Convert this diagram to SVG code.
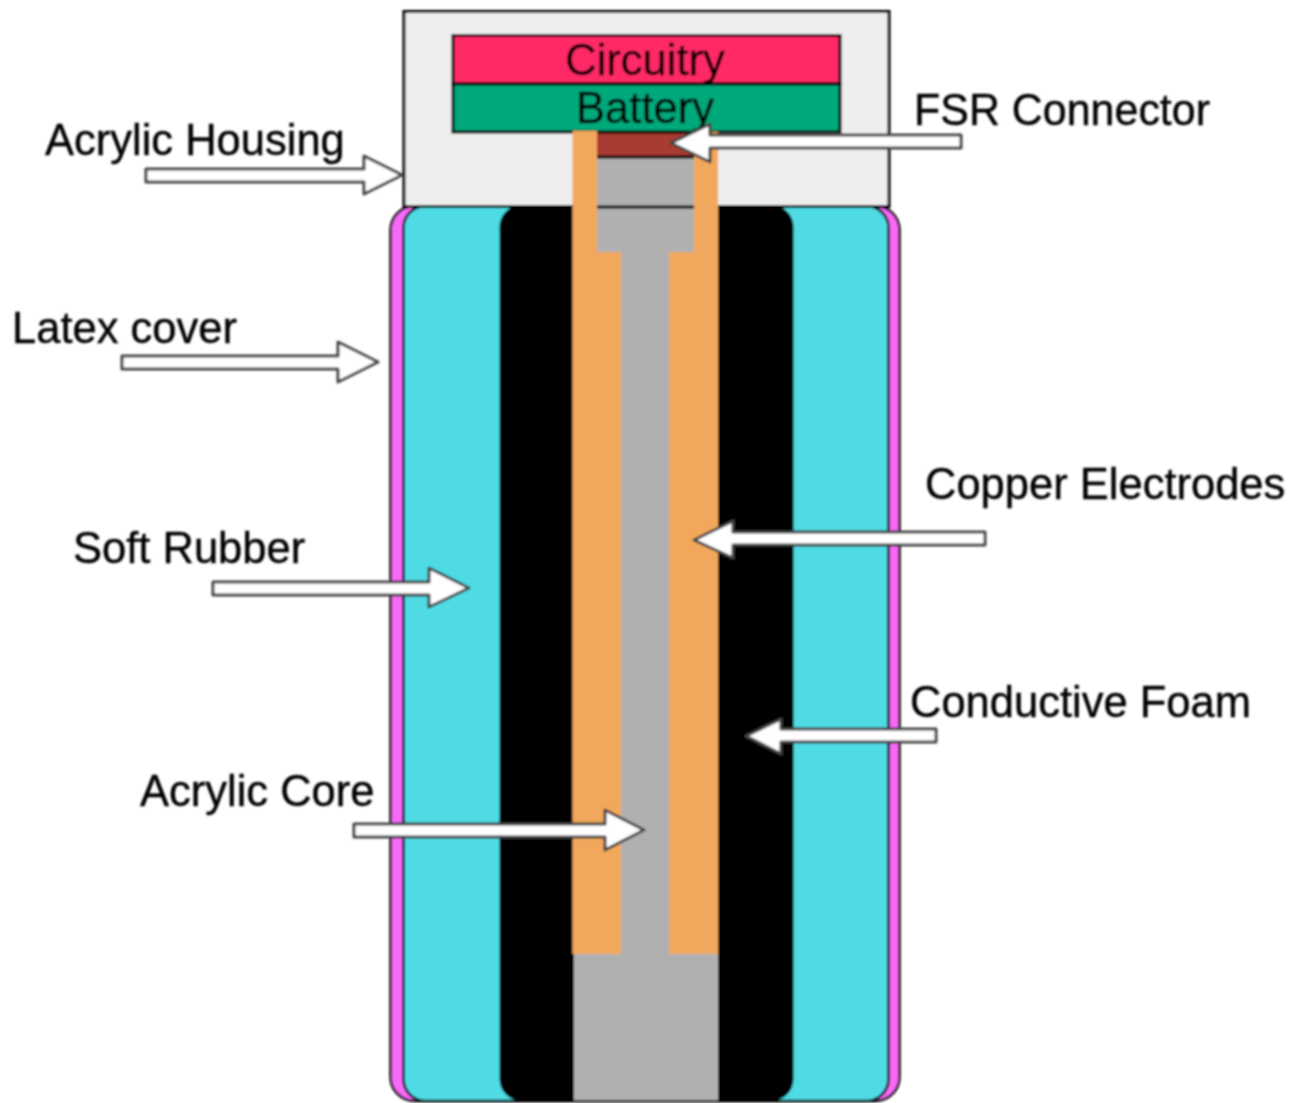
<svg xmlns="http://www.w3.org/2000/svg" width="1305" height="1103" viewBox="0 0 1305 1103">
<style>
text{font-family:"Liberation Sans",Arial,sans-serif;font-size:43.500px;fill:#000;stroke:#000;stroke-width:0.400}
.l{stroke:#000;stroke-width:3}
.o{fill:#f2a85b}
.g{fill:#b0b0b0}
.ar{fill:#fff;stroke:#444;stroke-width:3;stroke-linejoin:round}
</style>
<defs><filter id="soft" x="-2%" y="-2%" width="104%" height="104%"><feGaussianBlur stdDeviation="0.8"/></filter></defs>
<rect width="1305" height="1103" fill="#fff"/>
<g filter="url(#soft)">
<g id="latex-cover"><rect x="390.500" y="206" width="509" height="895" rx="24" fill="#f76af7" stroke="#111" stroke-width="2.500"/></g>
<g id="soft-rubber"><rect x="403.500" y="206" width="485" height="895" rx="22" fill="#4fdbe3" stroke="#000" stroke-width="2.500"/></g>
<g id="conductive-foam"><rect x="499.500" y="205" width="294" height="896" rx="22" fill="#000"/></g>
<g id="acrylic-housing"><rect x="404" y="11.500" width="485" height="195" fill="#eee" class="l"/></g>
<g id="acrylic-core">
<path class="g" d="M597 157H694V252H669V954H718V1100H574V954H621V252H597Z"/>
<path d="M597 207H694" stroke="#000" stroke-width="3"/>
</g>
<g id="fsr-connector"><rect x="597" y="132" width="97" height="24" fill="#a83a30"/><path d="M597 157H694" stroke="#000" stroke-width="3"/></g>
<g id="circuitry"><rect x="453" y="35.500" width="387" height="48.500" fill="#ff2b65" class="l"/><text x="645" y="75" text-anchor="middle">Circuitry</text></g>
<g id="battery"><rect x="453" y="84" width="387" height="48" fill="#00a97b" class="l"/><text x="645" y="123" text-anchor="middle">Battery</text></g>
<g id="copper-electrodes">
<path class="o" d="M572.500 131H597V252H621V954H572.500Z"/>
<path class="o" d="M694 132H718V954H669V252H694Z"/>
</g>
<g id="connectors">
<path class="ar" d="M146 169H364V156L402 175L364 194V182H146Z"/>
<path class="ar" d="M122 356H338V342L378 362L338 382V369H122Z"/>
<path class="ar" d="M213 582H429V568L469 588L429 607V595H213Z"/>
<path class="ar" d="M354 824H605V810L644 830L605 850V837H354Z"/>
<path class="ar" d="M961 135H710V124L671 143L710 162V148H961Z"/>
<path class="ar" d="M985 532H733V521L694 540L733 558V545H985Z"/>
<path class="ar" d="M936 729H781V719L746 736L781 754V742H936Z"/>
</g>
<g id="labels">
<text x="45" y="155">Acrylic Housing</text>
<text x="12" y="343">Latex cover</text>
<text x="73" y="563">Soft Rubber</text>
<text x="140" y="806">Acrylic Core</text>
<text x="914" y="125" textLength="296" lengthAdjust="spacingAndGlyphs">FSR Connector</text>
<text x="925" y="499">Copper Electrodes</text>
<text x="910" y="717">Conductive Foam</text>
</g>
</g>
</svg>
